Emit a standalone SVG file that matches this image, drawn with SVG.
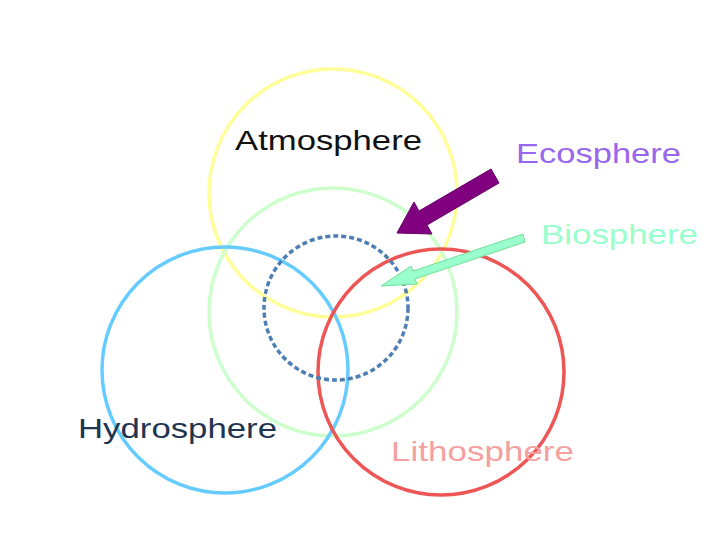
<svg xmlns="http://www.w3.org/2000/svg" width="720" height="540" viewBox="0 0 720 540">
<style>
circle{fill:none;stroke-width:3.5}
text{font-family:"Liberation Sans",Arial,sans-serif;font-size:28px}
</style>
<rect width="720" height="540" fill="#fff"/>
<g id="atmosphere"><circle cx="333" cy="193" r="124" stroke="#ffff99"/><text x="235" y="150" fill="#111" textLength="187" lengthAdjust="spacingAndGlyphs">Atmosphere</text></g>
<g id="biosphere-circle"><circle cx="333" cy="312" r="124" stroke="#ccffcc"/></g>
<g id="hydrosphere"><circle cx="225" cy="370" r="123" stroke="#66ccff"/><text x="78" y="438" fill="#1f3550" textLength="199" lengthAdjust="spacingAndGlyphs">Hydrosphere</text></g>
<g id="lithosphere"><circle cx="441" cy="372" r="123" stroke="#ee5555"/><text x="391" y="461" fill="#f4a0a0" textLength="183" lengthAdjust="spacingAndGlyphs">Lithosphere</text></g>
<g id="ecosphere-circle"><circle cx="336" cy="308" r="72" stroke="#4d7fb3" stroke-width="5.5" stroke-dasharray="5,3"/></g>
<g id="ecosphere"><text x="516" y="163" fill="#9966ee" textLength="165" lengthAdjust="spacingAndGlyphs">Ecosphere</text></g>
<g id="biosphere"><text x="541" y="244" fill="#99ffcc" textLength="157" lengthAdjust="spacingAndGlyphs">Biosphere</text></g>
<g id="connectors">
<polygon points="397,233 432,234 427,225 499,183 491,169 419,211 414,202" fill="#800080" stroke="#660066"/>
<polygon points="381,286 417,284 415,279 525,242 523,234 413,271 411,266" fill="#99ffcc" stroke="#77dd99"/>
</g>
</svg>
